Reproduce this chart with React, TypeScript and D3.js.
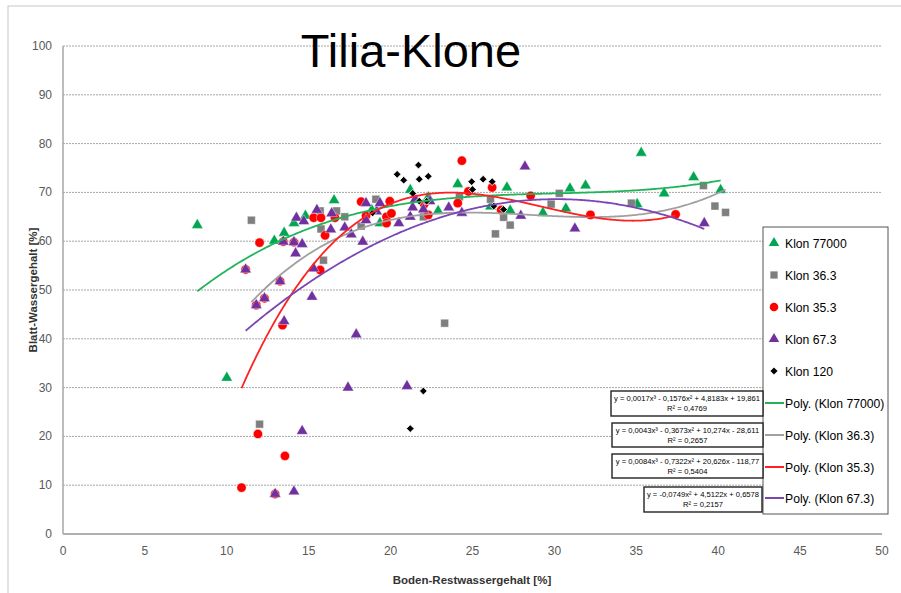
import React from 'react';
import * as d3 from 'd3';

// Klon 77000 (green triangles)
const klon77000 = [
  [8.2, 63.3], [10.0, 32.0], [12.9, 60.1], [13.5, 61.7], [14.1, 63.7], [14.8, 65.2],
  [16.55, 68.4], [18.85, 66.4], [19.35, 63.7], [21.2, 70.5], [22.3, 69.0], [22.9, 66.2],
  [24.1, 71.7], [26.1, 67.1], [27.1, 71.0], [27.3, 66.3], [29.3, 65.8], [30.7, 66.7],
  [30.95, 70.8], [31.9, 71.4], [35.05, 67.6], [35.3, 78.1], [36.7, 69.8], [38.5, 73.1],
  [40.15, 70.5],
];
// Klon 36.3 (grey squares)
const klon363 = [
  [11.5, 64.3], [12.0, 22.5], [15.7, 66.2], [15.75, 62.5], [15.9, 56.1], [16.7, 66.2],
  [17.2, 65.0], [18.2, 63.1], [19.1, 68.6], [22.0, 65.0], [23.3, 43.2], [24.2, 69.1],
  [26.1, 68.6], [26.4, 61.5], [26.9, 64.9], [27.3, 63.3], [29.8, 67.6], [30.3, 69.8],
  [34.7, 67.8], [39.1, 71.4], [39.8, 67.2], [40.45, 65.9],
];
// Klon 35.3 (red circles)
const klon353 = [
  [10.9, 9.5], [11.15, 54.2], [11.8, 46.9], [11.9, 20.5], [12.0, 59.7], [12.3, 48.3],
  [12.95, 8.2], [13.25, 51.8], [13.4, 42.8], [13.45, 59.9], [13.55, 16.0], [14.1, 59.8],
  [15.3, 64.8], [15.7, 54.1], [15.75, 64.8], [16.0, 61.2], [16.6, 64.8], [18.2, 68.1],
  [18.5, 65.2], [19.75, 65.0], [19.75, 63.7], [19.95, 68.2], [20.05, 65.7], [22.05, 67.6],
  [22.3, 65.4], [24.1, 67.8], [24.35, 76.5], [24.75, 70.2], [26.2, 71.0], [26.75, 66.4],
  [28.55, 69.3], [32.2, 65.4], [37.4, 65.5],
];
// Klon 67.3 (purple triangles)
const klon673 = [
  [11.15, 54.2], [11.8, 46.9], [12.3, 48.3], [12.95, 8.2], [13.25, 51.8], [13.45, 59.9],
  [13.5, 43.6], [14.1, 59.8], [14.1, 8.7], [14.2, 57.5], [14.25, 64.8], [14.6, 59.4],
  [14.6, 21.1], [14.7, 64.1], [15.2, 48.6], [15.3, 54.4], [15.5, 66.4], [16.35, 62.4],
  [16.4, 65.7], [17.2, 62.8], [17.4, 30.0], [17.6, 61.4], [17.9, 40.9], [18.3, 59.9],
  [18.5, 67.8], [18.5, 64.3], [19.15, 66.1], [19.35, 67.8], [20.5, 63.7], [21.0, 30.3],
  [21.2, 65.0], [21.35, 66.9], [21.5, 68.6], [22.0, 66.5], [22.4, 68.2], [23.55, 66.9],
  [24.35, 65.8], [27.95, 65.2], [28.2, 75.3], [31.25, 62.6], [39.15, 63.7],
];
// Klon 120 (black diamonds)
const klon120 = [
  [18.9, 65.8], [20.4, 73.7], [20.8, 72.5], [21.35, 69.8], [21.7, 75.6], [21.75, 72.7],
  [21.75, 68.2], [22.2, 68.2], [22.3, 73.3], [24.95, 72.2], [25.0, 70.6], [25.65, 72.7],
  [26.2, 72.2], [26.3, 67.2], [26.9, 66.5], [21.2, 21.6], [22.0, 29.3],
];

// trendline coefficients (highest power first); they round to the printed equations
const coef77000 = [0.001749, -0.1576, 4.8183, 19.861];
const coef363 = [0.0043, -0.3673, 10.274, -28.611];
const coef353 = [0.00835, -0.7322, 20.626, -118.77];
const coef673 = [-0.0749, 4.5122, 0.6578];

const eqLabels = [
  ['y = 0,0017x³ - 0,1576x² + 4,8183x + 19,861', 'R² = 0,4769'],
  ['y = 0,0043x³ - 0,3673x² + 10,274x - 28,611', 'R² = 0,2657'],
  ['y = 0,0084x³ - 0,7322x² + 20,626x - 118,77', 'R² = 0,5404'],
  ['y = -0,0749x² + 4,5122x + 0,6578', 'R² = 0,2157'],
];

const xTicks = [0, 5, 10, 15, 20, 25, 30, 35, 40, 45, 50];
const yTicks = [0, 10, 20, 30, 40, 50, 60, 70, 80, 90, 100];

const font = "'Liberation Sans', Arial, sans-serif";

function poly(c: number[], x: number) {
  return c.reduce((acc, k) => acc * x + k, 0);
}

export default function App() {
  const x = d3.scaleLinear().domain([0, 50]).range([63, 882]);
  const y = d3.scaleLinear().domain([0, 100]).range([534, 46]);

  // diamond = square turned by 45 degrees
  const series = [
    { name: 'Klon 77000', data: klon77000, color: '#00a650', shape: d3.symbolTriangle, size: 56, sw: 0.4, rot: 0 },
    { name: 'Klon 36.3', data: klon363, color: '#7f7f7f', shape: d3.symbolSquare, size: 62, sw: 0.4, rot: 0 },
    { name: 'Klon 35.3', data: klon353, color: '#ff0000', shape: d3.symbolCircle, size: 68, sw: 0.4, rot: 0 },
    { name: 'Klon 67.3', data: klon673, color: '#7030a0', shape: d3.symbolTriangle, size: 56, sw: 0.4, rot: 0 },
    { name: 'Klon 120', data: klon120, color: '#000000', shape: d3.symbolSquare, size: 30, sw: 0.8, rot: 45 },
  ];

  const trends = [
    { name: 'Poly. (Klon 77000)', coef: coef77000, data: klon77000, color: '#22b45a' },
    { name: 'Poly. (Klon 36.3)', coef: coef363, data: klon363, color: '#a0a0a0' },
    { name: 'Poly. (Klon 35.3)', coef: coef353, data: klon353, color: '#ff2020' },
    { name: 'Poly. (Klon 67.3)', coef: coef673, data: klon673, color: '#7a46b4' },
  ];

  const trendPath = (t: typeof trends[0]) => {
    const [lo, hi] = d3.extent(t.data, (d) => d[0]) as [number, number];
    const xs = d3.range(lo, hi, 0.1).concat([hi]);
    return d3.line<number>().x((v) => x(v)).y((v) => y(poly(t.coef, v)))(xs) || '';
  };

  const eqBoxes = [
    { x: 611, y: 391, w: 152, h: 25 },
    { x: 612, y: 423, w: 151, h: 24 },
    { x: 612, y: 454, w: 151, h: 24 },
    { x: 644, y: 487, w: 118, h: 25 },
  ];

  const legendRows = [243, 275, 307, 339, 371, 403, 435, 467, 498];

  return (
    <svg width={901} height={593} style={{ position: 'absolute', left: 0, top: 0, background: '#fff' }}>
      <rect x={8} y={6} width={900} height={600} fill="#fff" stroke="#c8c8c8" strokeWidth={1} />

      {yTicks.map((t) => (
        <line key={'g' + t} x1={63} x2={882} y1={y(t)} y2={y(t)} stroke="#a6a6a6" strokeWidth={1} strokeDasharray="2,1" />
      ))}
      <line x1={63} x2={63} y1={46} y2={534} stroke="#a6a6a6" strokeWidth={1.5} />
      <line x1={63} x2={882} y1={534} y2={534} stroke="#b0b0b0" strokeWidth={2} />

      {yTicks.map((t) => (
        <text key={'yl' + t} x={52} y={y(t) + 4} textAnchor="end" fontSize={12} fill="#595959" fontFamily={font}>{t}</text>
      ))}
      {xTicks.map((t) => (
        <text key={'xl' + t} x={x(t)} y={555} textAnchor="middle" fontSize={12} fill="#595959" fontFamily={font}>{t}</text>
      ))}

      <text x={472} y={584} textAnchor="middle" fontSize={11.5} fontWeight="bold" fill="#333" fontFamily={font}>Boden-Restwassergehalt [%]</text>
      <text transform="translate(37,290) rotate(-90)" textAnchor="middle" fontSize={11.5} fontWeight="bold" fill="#333" fontFamily={font}>Blatt-Wassergehalt [%]</text>

      <text x={411} y={67} textAnchor="middle" fontSize={47} fill="#000" fontFamily={font}>Tilia-Klone</text>

      {series.map((s) => (
        <g key={s.name}>
          {s.data.map((d, i) => (
            <path
              key={i}
              d={d3.symbol().type(s.shape).size(s.size)() || ''}
              transform={`translate(${x(d[0])},${y(d[1])}) rotate(${s.rot})`}
              fill={s.color}
              stroke="#fff"
              strokeWidth={s.sw}
            />
          ))}
        </g>
      ))}

      {trends.map((t) => (
        <path key={t.name} d={trendPath(t)} fill="none" stroke={t.color} strokeWidth={1.8} />
      ))}

      <rect x={763} y={227} width={125} height={287} fill="#fff" stroke="#555" strokeWidth={1} />
      {series.map((s, i) => (
        <g key={'lg' + s.name}>
          <path d={d3.symbol().type(s.shape).size(s.size * 0.85)() || ''} transform={`translate(774,${legendRows[i]}) rotate(${s.rot})`} fill={s.color} />
          <text x={785} y={legendRows[i] + 4.5} fontSize={12.2} fill="#000" fontFamily={font}>{s.name}</text>
        </g>
      ))}
      {trends.map((t, i) => (
        <g key={'lt' + t.name}>
          <line x1={765} x2={784} y1={legendRows[i + 5]} y2={legendRows[i + 5]} stroke={t.color} strokeWidth={2} />
          <text x={785} y={legendRows[i + 5] + 4.5} fontSize={12.2} fill="#000" fontFamily={font}>{t.name}</text>
        </g>
      ))}

      {eqBoxes.map((b, i) => (
        <g key={'eq' + i}>
          <rect x={b.x} y={b.y} width={b.w} height={b.h} fill="#fff" stroke="#222" strokeWidth={1.4} />
          <text x={b.x + b.w / 2} y={b.y + 9.5} textAnchor="middle" fontSize={7.6} fill="#000" fontFamily={font}>{eqLabels[i][0]}</text>
          <text x={b.x + b.w / 2} y={b.y + 19.5} textAnchor="middle" fontSize={7.6} fill="#000" fontFamily={font}>{eqLabels[i][1]}</text>
        </g>
      ))}
    </svg>
  );
}
